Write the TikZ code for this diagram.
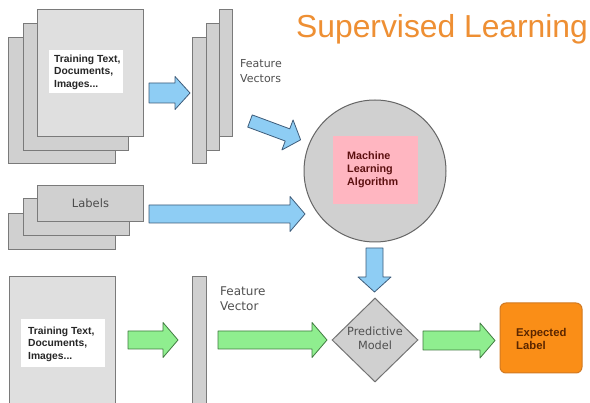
\documentclass[tikz,border=0pt]{standalone}
\usepackage{fontspec}
\setmainfont{Liberation Sans}
\newfontfamily\dejavu{DejaVu Sans}
\usetikzlibrary{shapes.geometric}
\definecolor{pagefill}{HTML}{D0D0D0}
\definecolor{frontfill}{HTML}{DFDFDF}
\definecolor{pageedge}{HTML}{7A7A7A}
\definecolor{bluefill}{HTML}{8ECDF4}
\definecolor{blueedge}{HTML}{3E5C7A}
\definecolor{greenfill}{HTML}{8FEE8F}
\definecolor{greenedge}{HTML}{3F7A3F}
\definecolor{titleorange}{HTML}{EE8F33}
\definecolor{orangefill}{HTML}{FA8E17}
\definecolor{orangeedge}{HTML}{D27A22}
\definecolor{pinkfill}{HTML}{FFB6C1}
\definecolor{txtgray}{HTML}{505050}
\definecolor{mltext}{HTML}{5C1010}
\definecolor{exptext}{HTML}{5A2600}
\newcommand\blkarrow[8]{% style, x, y, angle, length, bodyhalf, headhalf, headlen
  \begin{scope}[shift={(#2,#3)}, rotate=#4]
    \draw[#1] (0,-#6) -- (#5-#8,-#6) -- (#5-#8,-#7) -- (#5,0) -- (#5-#8,#7) -- (#5-#8,#6) -- (0,#6) -- cycle;
  \end{scope}}
\begin{document}
\begin{tikzpicture}[x=1pt,y=-1pt,
  page/.style={draw=pageedge, fill=pagefill, line width=1pt, anchor=north west, inner sep=0pt},
  frontpage/.style={page, fill=frontfill, line width=1.2pt},
  whitebox/.style={fill=white, anchor=north west, inner sep=0pt},
  bluearrow/.style={draw=blueedge, fill=bluefill, line width=0.8pt, line join=round},
  greenarrow/.style={draw=greenedge, fill=greenfill, line width=0.8pt, line join=round},
  doctext/.style={anchor=west, align=left, inner sep=0pt, text=black!85, font=\fontsize{10.3}{12.5}\selectfont\bfseries},
  graytext/.style={inner sep=0pt, text=txtgray, font=\dejavu\fontsize{11}{15}\selectfont}
]
\useasboundingbox (0,0) rectangle (590,403);
\fill[white] (0,0) rectangle (590,403);

% top document stack
\node[page, minimum width=107pt, minimum height=126pt] (tb) at (8,37) {};
\node[page, minimum width=105pt, minimum height=127pt] (tm) at (23,23) {};
\node[frontpage, minimum width=106pt, minimum height=127pt] (tf) at (37,9) {};
\node[whitebox, minimum width=74pt, minimum height=43pt] (tw) at (49,50) {};
\node[doctext] (ttext) at (54,72) {Training Text,\\Documents,\\Images...};

% feature vectors stack
\node[page, minimum width=14pt, minimum height=126pt] (fb1) at (192,37) {};
\node[page, minimum width=13pt, minimum height=127pt] (fb2) at (206,23) {};
\node[page, minimum width=13pt, minimum height=127pt] (fb3) at (219,9) {};
\node[graytext, anchor=west, align=left] (fvtext) at (240,71) {Feature\\Vectors};

% labels stack
\node[page, minimum width=107pt, minimum height=36pt] (lb) at (8,213) {};
\node[page, minimum width=106pt, minimum height=37pt] (lm) at (23,198) {};
\node[page, minimum width=106pt, minimum height=36pt] (lf) at (37,185) {};
\node[graytext, font=\dejavu\fontsize{11.5}{14}\selectfont, text=black!70] (labtext) at (lf.center) {Labels};

% machine learning algorithm
\node[circle, draw=black!60, fill=pagefill, line width=1pt, minimum size=142pt, inner sep=0pt] (mla) at (375,171) {};
\node[fill=pinkfill, minimum width=85pt, minimum height=68pt, inner sep=0pt] (mlbox) at (375.5,170) {};
\node[anchor=west, align=left, inner sep=0pt, text=mltext, font=\fontsize{10.8}{13}\selectfont\bfseries] (mltext) at (347,170) {Machine\\Learning\\Algorithm};

% title
\node[anchor=west, inner sep=0pt, text=titleorange, font=\fontsize{31.8}{32}\selectfont] (title) at (296,29) {Supervised Learning};

% bottom row
\node[frontpage, minimum width=106pt, minimum height=130pt] (bp) at (9,276) {};
\node[whitebox, minimum width=84pt, minimum height=48pt] (bw) at (21,319) {};
\node[doctext] (btext) at (28,344) {Training Text,\\Documents,\\Images...};
\node[page, minimum width=14pt, minimum height=130pt] (bb) at (192,276) {};
\node[graytext, anchor=west, align=left, font=\dejavu\fontsize{12}{15}\selectfont] (fv2text) at (220,299) {Feature\\Vector};

\node[diamond, draw=black!55, fill=pagefill, line width=1pt, minimum width=86pt, minimum height=84pt, inner sep=0pt] (pm) at (375,340) {};
\node[graytext, align=center, font=\dejavu\fontsize{11.3}{14}\selectfont] (pmtext) at (375,338) {Predictive\\Model};

\node[draw=orangeedge, fill=orangefill, rounded corners=6pt, line width=1pt, minimum width=82pt, minimum height=70pt, inner sep=0pt] (exp) at (541,338) {};
\node[anchor=west, align=left, inner sep=0pt, text=exptext, font=\fontsize{11.3}{12.5}\selectfont\bfseries] (exptext) at (516,339) {Expected\\Label};

% block arrows
\blkarrow{bluearrow}{149}{93}{0}{41}{10}{16.5}{15}
\blkarrow{bluearrow}{250}{121}{-20.4}{54}{6.5}{16}{14}
\blkarrow{bluearrow}{149}{214}{0}{156}{9}{17.5}{15}
\blkarrow{bluearrow}{374.5}{248}{-90}{44}{8.5}{16.5}{15}
\blkarrow{greenarrow}{128}{340}{0}{50}{9}{17.5}{15}
\blkarrow{greenarrow}{218}{340}{0}{109}{9}{17.5}{15}
\blkarrow{greenarrow}{423}{340.5}{0}{72}{9.5}{17.5}{15}
\end{tikzpicture}
\end{document}
